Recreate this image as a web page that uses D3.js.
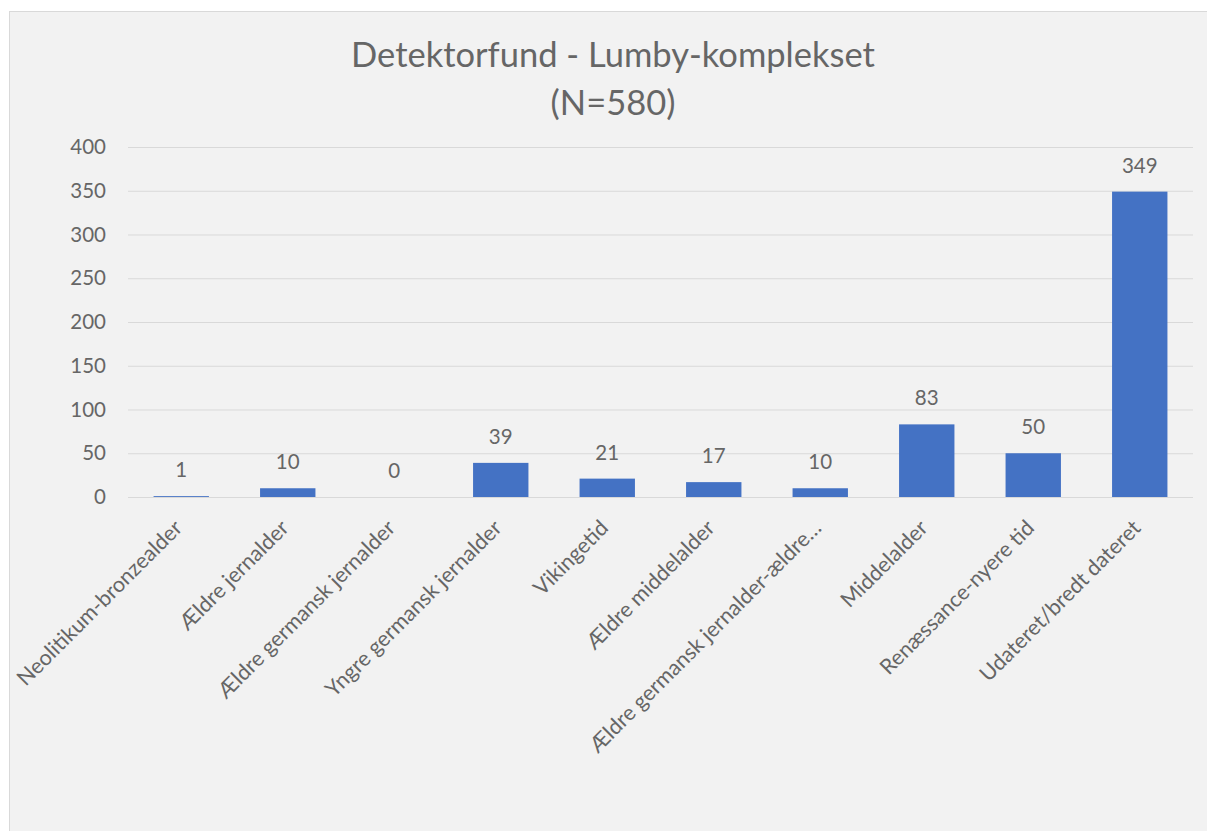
<!DOCTYPE html>
<html>
<head>
<meta charset="utf-8">
<script src="https://cdn.jsdelivr.net/npm/d3@7"></script>
<style>
  html, body { margin: 0; padding: 0; background: #ffffff; }
  svg { display: block; }
</style>
</head>
<body>
<script>
const categories = [
  "Neolitikum-bronzealder",
  "Ældre jernalder",
  "Ældre germansk jernalder",
  "Yngre germansk jernalder",
  "Vikingetid",
  "Ældre middelalder",
  "Ældre germansk jernalder-ældre…",
  "Middelalder",
  "Renæssance-nyere tid",
  "Udateret/bredt dateret"
];
const values = [1, 10, 0, 39, 21, 17, 10, 83, 50, 349];
const yTicks = [0, 50, 100, 150, 200, 250, 300, 350, 400];
const titleLines = ["Detektorfund - Lumby-komplekset", "(N=580)"];

const W = 1207, H = 831;
const font = "Lato, 'Open Sans', 'Liberation Sans', sans-serif";
const textColor = "#595959";
const labelColor = "#666666";

const svg = d3.select("body").append("svg").attr("width", W).attr("height", H);

svg.append("rect")
  .attr("x", 9.5).attr("y", 11.5).attr("width", W - 9).attr("height", H - 11)
  .attr("fill", "#f2f2f2").attr("stroke", "#d9d9d9").attr("stroke-width", 1);

const plot = { left: 128, right: 1193, top: 147, bottom: 497 };

const x = d3.scaleBand().domain(categories).range([plot.left, plot.right]).paddingInner(0.48).paddingOuter(0.24);
const y = d3.scaleLinear().domain([0, 400]).range([plot.bottom, plot.top]);

// gridlines
const grid = svg.append("g")
  .attr("transform", `translate(${plot.left},0)`)
  .call(d3.axisLeft(y).tickValues(yTicks).tickSize(-(plot.right - plot.left)).tickFormat(""));
grid.select(".domain").remove();
grid.selectAll(".tick line").attr("stroke", "#d9d9d9").attr("stroke-width", 1);

// y tick labels
const yAxis = svg.append("g")
  .attr("transform", `translate(${plot.left - 22},0)`)
  .call(d3.axisLeft(y).tickValues(yTicks).tickSize(0).tickPadding(0));
yAxis.select(".domain").remove();
yAxis.selectAll("text")
  .attr("font-family", font).attr("font-size", 20.5).attr("fill", labelColor);

// bars
svg.append("g").selectAll("rect")
  .data(values)
  .join("rect")
  .attr("x", (d, i) => x(categories[i]))
  .attr("width", x.bandwidth())
  .attr("y", d => y(d))
  .attr("height", d => Math.max(0, y(0) - y(d)))
  .attr("fill", "#4472c4");

// data labels
svg.append("g").selectAll("text")
  .data(values)
  .join("text")
  .attr("x", (d, i) => x(categories[i]) + x.bandwidth() / 2)
  .attr("y", d => y(d) - 19)
  .attr("text-anchor", "middle")
  .attr("font-family", font).attr("font-size", 20.5).attr("fill", labelColor)
  .text(d => d);

// x labels
const xAxis = svg.append("g")
  .attr("transform", `translate(0,${plot.bottom})`)
  .call(d3.axisBottom(x).tickSize(0).tickPadding(0));
xAxis.select(".domain").remove();
xAxis.selectAll("text")
  .attr("font-family", font).attr("font-size", 21.5).attr("fill", labelColor)
  .attr("text-anchor", "end")
  .attr("dy", "0.35em")
  .attr("transform", "translate(-3,27) rotate(-45)");

// title
svg.append("g").selectAll("text")
  .data(titleLines)
  .join("text")
  .attr("x", 613)
  .attr("y", (d, i) => 67 + i * 48)
  .attr("text-anchor", "middle")
  .attr("font-family", font).attr("font-size", 34.5).attr("fill", labelColor)
  .text(d => d);
</script>
</body>
</html>
